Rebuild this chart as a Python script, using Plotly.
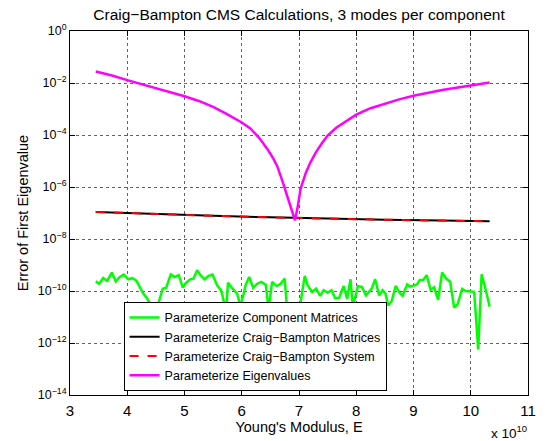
import plotly.graph_objects as go

# Young's modulus samples (units of 1e10) and first-eigenvalue errors
E_component = [3.45, 3.51, 3.58, 3.65, 3.73, 3.80, 3.87, 3.94, 4.02, 4.09, 4.16, 4.22, 4.28, 4.33,
               4.39, 4.42, 4.48, 4.55, 4.62, 4.68, 4.76, 4.83, 4.90, 4.97, 5.03, 5.10, 5.16, 5.22,
               5.28, 5.35, 5.42, 5.49, 5.57, 5.64, 5.69, 5.73, 5.76, 5.84, 5.92, 5.98, 6.07, 6.13,
               6.20, 6.27, 6.34, 6.42, 6.47, 6.53, 6.61, 6.68, 6.75, 6.79, 6.88, 6.96, 7.02, 7.10,
               7.15, 7.23, 7.30, 7.37, 7.43, 7.50, 7.57, 7.63, 7.70, 7.78, 7.84, 7.90, 7.94, 8.03,
               8.10, 8.17, 8.22, 8.27, 8.33, 8.40, 8.46, 8.51, 8.56, 8.62, 8.69, 8.75, 8.81, 8.89,
               8.94, 9.00, 9.06, 9.11, 9.17, 9.23, 9.30, 9.36, 9.43, 9.50, 9.57, 9.64, 9.71, 9.77,
               9.85, 9.91, 10.00, 10.06, 10.13, 10.19, 10.26, 10.33]
log_err_component = [-9.63, -9.72, -9.50, -9.61, -9.29, -9.63, -9.46, -9.37, -9.55, -9.50, -9.60,
                     -9.85, -10.10, -10.23, -10.43, -10.55, -10.95, -10.43, -9.91, -9.87, -9.36,
                     -9.46, -9.39, -9.87, -9.68, -9.55, -9.52, -9.20, -9.39, -9.55, -9.42, -9.37,
                     -9.78, -9.97, -10.43, -10.65, -9.68, -9.91, -10.10, -10.60, -9.76, -9.46,
                     -9.88, -9.72, -9.65, -9.76, -10.70, -9.65, -9.81, -9.72, -9.52, -10.65,
                     -10.90, -10.80, -10.55, -9.42, -9.78, -10.04, -9.91, -10.19, -9.97, -10.06,
                     -9.97, -10.27, -10.27, -9.81, -10.30, -9.55, -10.60, -9.81, -9.85, -10.17,
                     -10.04, -9.91, -9.55, -10.17, -9.97, -10.10, -10.56, -10.38, -9.80, -10.05,
                     -10.18, -9.75, -9.83, -9.80, -9.75, -9.58, -9.58, -9.39, -9.96, -9.86, -10.34,
                     -9.29, -9.52, -9.64, -10.64, -10.51, -9.92, -10.00, -10.03, -10.03, -12.25,
                     -9.36, -9.94, -10.60]
err_component = [10 ** v for v in log_err_component]

E_cb = [3.45, 4.5, 5.5, 6.5, 7.5, 8.5, 9.5, 10.33]
err_cb_matrices = [1.10e-7, 9.1e-8, 7.8e-8, 6.8e-8, 6.0e-8, 5.5e-8, 5.1e-8, 4.8e-8]
err_cb_system = [1.10e-7, 9.1e-8, 7.8e-8, 6.8e-8, 6.0e-8, 5.5e-8, 5.1e-8, 4.8e-8]

E_eig = [3.45, 3.75, 4.0, 4.25, 4.5, 4.75, 5.0, 5.25, 5.5, 5.75, 6.0, 6.15, 6.3, 6.45, 6.55,
         6.62, 6.68, 6.73, 6.78, 6.83, 6.88, 6.93, 6.97, 7.0, 7.03, 7.07, 7.12, 7.2, 7.3, 7.4,
         7.5, 7.65, 7.8, 8.0, 8.25, 8.5, 8.75, 9.0, 9.25, 9.5, 9.75, 10.0, 10.33]
log_err_eig = [-1.56, -1.72, -1.89, -2.04, -2.19, -2.35, -2.51, -2.69, -2.92, -3.21, -3.52,
               -3.75, -4.10, -4.55, -4.90, -5.20, -5.55, -5.90, -6.25, -6.60, -6.95, -7.28,
               -6.85, -6.40, -6.05, -5.78, -5.45, -5.05, -4.65, -4.32, -4.02, -3.72, -3.50,
               -3.22, -2.97, -2.79, -2.63, -2.49, -2.37, -2.27, -2.18, -2.10, -1.98]
err_eig = [10 ** v for v in log_err_eig]

x_ticks = [3, 4, 5, 6, 7, 8, 9, 10, 11]
y_exponents = [0, -2, -4, -6, -8, -10, -12, -14]

FONT = "Liberation Sans, Arial, Helvetica, sans-serif"

fig = go.Figure()
fig.add_trace(go.Scatter(x=E_component, y=err_component, mode="lines",
                         name="Parameterize Component Matrices",
                         line=dict(color="#00ff00", width=2.5)))
fig.add_trace(go.Scatter(x=E_cb, y=err_cb_matrices, mode="lines",
                         name="Parameterize Craig\u2212Bampton Matrices",
                         line=dict(color="#000000", width=2)))
fig.add_trace(go.Scatter(x=E_cb, y=err_cb_system, mode="lines",
                         name="Parameterize Craig\u2212Bampton System",
                         line=dict(color="#ff0000", width=2, dash="dash")))
fig.add_trace(go.Scatter(x=E_eig, y=err_eig, mode="lines",
                         name="Parameterize Eigenvalues",
                         line=dict(color="#ff00ff", width=2.5)))

axis_common = dict(
    showline=True, linecolor="black", linewidth=1, mirror="ticks",
    ticks="inside", ticklen=5, tickcolor="black",
    showgrid=True, gridcolor="rgba(70,70,70,0.85)", griddash="dot", gridwidth=1,
    zeroline=False,
)

fig.update_xaxes(range=[3, 11], tickvals=x_ticks, ticktext=[str(t) for t in x_ticks],
                 tickfont=dict(family=FONT, size=15, color="black"), ticklabelstandoff=2,
                 title=dict(text="Young's Modulus, E", font=dict(family=FONT, size=14.5, color="black"),
                            standoff=0),
                 **axis_common)
fig.update_yaxes(type="log", range=[-14, 0],
                 tickvals=[10.0 ** e for e in y_exponents],
                 ticktext=["10<sup>%s</sup>" % (str(e).replace("-", "\u2212")) for e in y_exponents],
                 tickfont=dict(family=FONT, size=12.5, color="black"),
                 title=dict(text="Error of First Eigenvalue", font=dict(family=FONT, size=14.5, color="black"),
                            standoff=5),
                 **axis_common)

fig.add_annotation(text="x 10<sup>10</sup>", xref="paper", yref="paper", x=0.958, y=-0.101,
                   xanchor="center", yanchor="middle", showarrow=False,
                   font=dict(family=FONT, size=13.5, color="black"))

fig.update_layout(
    width=548, height=441,
    margin=dict(l=70, r=13, t=31, b=45),
    paper_bgcolor="white", plot_bgcolor="white",
    title=dict(text="Craig\u2212Bampton CMS Calculations, 3 modes per component",
               x=0.5, xref="paper", y=0.968, yanchor="middle",
               font=dict(family=FONT, size=15.5, color="black")),
    font=dict(family=FONT, color="black"),
    showlegend=True,
    legend=dict(x=0.117, y=0.256, xanchor="left", yanchor="top",
                bgcolor="white", bordercolor="black", borderwidth=1,
                font=dict(family=FONT, size=12.5, color="black"),
                tracegroupgap=0, itemwidth=30),
)

fig.write_html("out.html")
